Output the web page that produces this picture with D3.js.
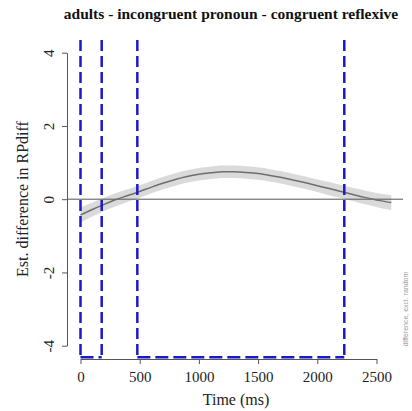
<!DOCTYPE html>
<html>
  <head>
    <meta charset="utf-8">
    <script type="text/javascript" src="https://cdn.jsdelivr.net/npm/d3@7/dist/d3.min.js"></script>
    <style>
      body { margin: 0; background: #fff; }
      svg text { font-family: "Liberation Serif", "DejaVu Serif", serif; }
    </style>
  </head>
  <body>
    <script type="text/javascript">
      WIDTH = 412
      HEIGHT = 411
      SERIF = "Liberation Serif"

      // the data
      var times = [0, 100, 200, 300, 400, 500, 600, 700, 800, 900, 1000, 1100, 1200, 1300,
                   1400, 1500, 1600, 1700, 1800, 1900, 2000, 2100, 2200, 2300, 2400, 2500, 2600, 2625]
      var estimate = [-0.43, -0.28, -0.14, -0.01, 0.10, 0.21, 0.33, 0.44, 0.54, 0.62, 0.68, 0.72, 0.75, 0.75,
                      0.73, 0.70, 0.65, 0.59, 0.52, 0.45, 0.37, 0.29, 0.21, 0.13, 0.05, -0.02, -0.08, -0.09]
      var ciHalf = [0.20, 0.19, 0.18, 0.18, 0.17, 0.17, 0.17, 0.17, 0.17, 0.17, 0.17, 0.17, 0.17, 0.17,
                    0.17, 0.17, 0.17, 0.17, 0.17, 0.17, 0.17, 0.18, 0.18, 0.18, 0.19, 0.19, 0.20, 0.20]
      // significant windows (start, end) in ms
      var sigStart = [0, 480]
      var sigEnd = [179, 2228]
      var xTicks = [0, 500, 1000, 1500, 2000, 2500]
      var yTicks = [-4, -2, 0, 2, 4]

      var svg = d3.select("body")
            .append("svg")
            .attr("width", WIDTH)
            .attr("height", HEIGHT)

      // scales (plot region is a bit wider than the axes, like R)
      var x = d3.scaleLinear().domain([0, 2500]).range([80.5, 376.5])
      var y = d3.scaleLinear().domain([-4, 4]).range([345.7, 52.7])
      var plotLeft = x(-105), plotRight = x(2724)
      var plotTop = y(4.35), plotBottom = y(-4.33)

      // confidence band
      var rows = times.map(function(t, i) { return {t: t, e: estimate[i], c: ciHalf[i]} })
      svg.append("path")
        .attr("d", d3.area()
          .x(function(d) { return x(d.t) })
          .y0(function(d) { return y(d.e - d.c) })
          .y1(function(d) { return y(d.e + d.c) })
          .curve(d3.curveMonotoneX)(rows))
        .attr("fill", "#dadada")

      // zero line
      svg.append("line")
        .attr("x1", plotLeft).attr("x2", plotRight)
        .attr("y1", y(0)).attr("y2", y(0))
        .attr("stroke", "#555").attr("stroke-width", 1)

      // estimate line
      svg.append("path")
        .attr("d", d3.line()
          .x(function(d) { return x(d.t) })
          .y(function(d) { return y(d.e) })
          .curve(d3.curveMonotoneX)(rows))
        .attr("fill", "none")
        .attr("stroke", "#6e6e6e")
        .attr("stroke-width", 1.5)

      // significance markers: vertical lines + bottom segments
      var bounds = sigStart.concat(sigEnd)
      svg.selectAll(".vsig").data(bounds).enter()
        .append("line").attr("class", "vsig")
        .attr("x1", function(d) { return x(d) })
        .attr("x2", function(d) { return x(d) })
        .attr("y1", plotTop).attr("y2", plotBottom)
        .attr("stroke", "#1a1acc").attr("stroke-width", 2.5)
        .attr("stroke-dasharray", "11,5")
      svg.selectAll(".hsig").data(sigStart).enter()
        .append("line").attr("class", "hsig")
        .attr("x1", function(d) { return x(d) })
        .attr("x2", function(d, i) { return x(sigEnd[i]) })
        .attr("y1", plotBottom - 0.5).attr("y2", plotBottom - 0.5)
        .attr("stroke", "#1a1acc").attr("stroke-width", 2.5)
        .attr("stroke-dasharray", "13,5")

      // x axis
      var xAxis = svg.append("g")
        .attr("transform", "translate(0," + 359 + ")")
        .call(d3.axisBottom(x).tickValues(xTicks).tickSize(5).tickPadding(7).tickSizeOuter(0)
          .tickFormat(function(d) { return String(d) }))
      xAxis.attr("font-family", SERIF)
      xAxis.select(".domain").attr("stroke", "#555")
      xAxis.selectAll(".tick line").attr("stroke", "#555")
      xAxis.selectAll("text").attr("font-size", 15).attr("fill", "#222")

      // y axis, labels rotated like R
      var yAxis = svg.append("g")
        .attr("transform", "translate(" + 67 + ",0)")
        .call(d3.axisLeft(y).tickValues(yTicks).tickSize(5).tickSizeOuter(0)
          .tickFormat(function(d) { return String(d) }))
      yAxis.attr("font-family", SERIF)
      yAxis.select(".domain").attr("stroke", "#555")
      yAxis.selectAll(".tick line").attr("stroke", "#555")
      yAxis.selectAll("text")
        .attr("font-size", 15).attr("fill", "#222")
        .attr("x", null).attr("dy", null)
        .attr("text-anchor", "middle")
        .attr("transform", "translate(-13,0) rotate(-90)")

      // title and axis titles
      svg.append("text")
        .attr("x", 231).attr("y", 19)
        .attr("text-anchor", "middle")
        .attr("font-family", SERIF)
        .attr("font-size", 15.5).attr("font-weight", "bold")
        .attr("fill", "#111")
        .text("adults - incongruent pronoun - congruent reflexive")
      svg.append("text")
        .attr("x", 236).attr("y", 405)
        .attr("text-anchor", "middle")
        .attr("font-family", SERIF)
        .attr("font-size", 16).attr("fill", "#222")
        .text("Time (ms)")
      svg.append("text")
        .attr("transform", "translate(28,199) rotate(-90)")
        .attr("text-anchor", "middle")
        .attr("font-family", SERIF)
        .attr("font-size", 16).attr("fill", "#222")
        .text("Est. difference in RPdiff")

      // small note on the right
      svg.append("text")
        .attr("transform", "translate(408,309) rotate(-90)")
        .attr("text-anchor", "middle")
        .attr("font-size", 7)
        .style("font-family", "Liberation Sans")
        .attr("fill", "#999")
        .text("difference, excl. random")
    </script>
  </body>
</html>
